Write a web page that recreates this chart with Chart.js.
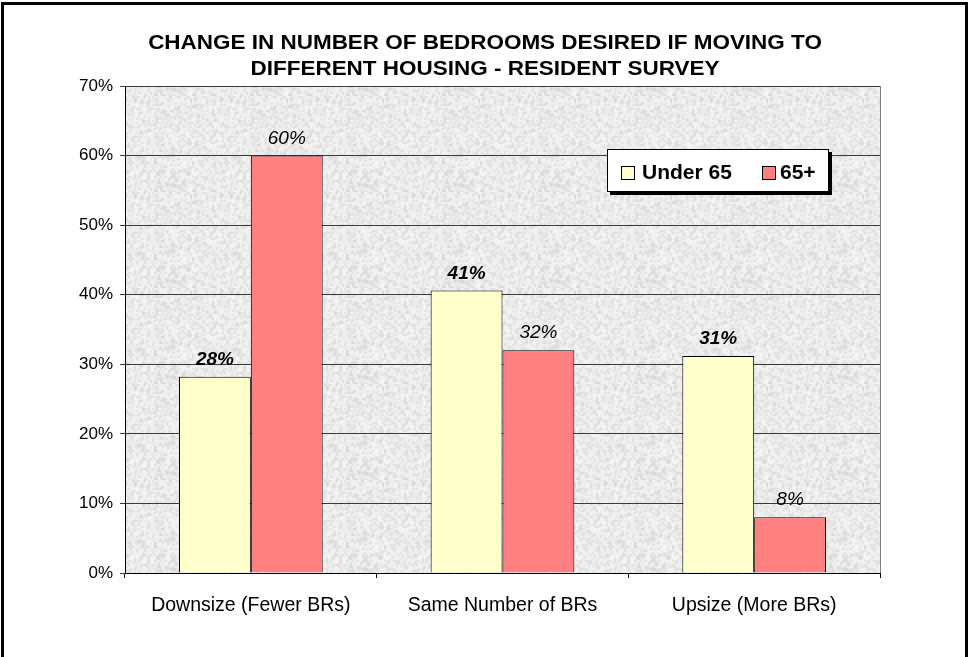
<!DOCTYPE html>
<html>
<head>
<meta charset="utf-8">
<script src="https://cdn.jsdelivr.net/npm/chart.js@4/dist/chart.umd.min.js"></script>
<style>
  body { margin: 0; background: #fff; }
  #wrap { position: absolute; left: 0; top: 0; width: 969px; height: 657px; }
  #frame { position: absolute; left: 1px; top: 2px; width: 967px; height: 720px;
           box-sizing: border-box; border: 3px solid #000; pointer-events: none; }
</style>
</head>
<body>
<div id="wrap"><canvas id="chart" width="969" height="657"></canvas></div>
<div id="frame"></div>
<script>
var categories = ['Downsize (Fewer BRs)', 'Same Number of BRs', 'Upsize (More BRs)'];
var under65 = [28.2, 40.6, 31.2];
var over65 = [60, 32, 8];
var seriesNames = ['Under 65', '65+'];
var titleLines = ['CHANGE IN NUMBER OF BEDROOMS DESIRED IF MOVING TO', 'DIFFERENT HOUSING - RESIDENT SURVEY'];

var FONT = 'Arial, "Liberation Sans", sans-serif';

// light granite texture for the plot area (deterministic speckle, softened)
function makeTexture(ctx) {
  var n = 48;
  var s = document.createElement('canvas');
  s.width = n; s.height = n;
  var g = s.getContext('2d');
  var img = g.createImageData(n, n);
  for (var i = 0; i < n * n; i++) {
    var h = Math.sin(i * 12.9898 + 78.233) * 43758.5453;
    h = h - Math.floor(h);
    var v = 246 - Math.round(h * h * 34);
    img.data[i * 4] = v;
    img.data[i * 4 + 1] = v;
    img.data[i * 4 + 2] = v;
    img.data[i * 4 + 3] = 255;
  }
  g.putImageData(img, 0, 0);
  var c = document.createElement('canvas');
  c.width = n * 2; c.height = n * 2;
  var g2 = c.getContext('2d');
  g2.imageSmoothingEnabled = true;
  g2.drawImage(s, 0, 0, n * 2, n * 2);
  return ctx.createPattern(c, 'repeat');
}

var plotBg = {
  id: 'plotBg',
  beforeDraw: function(chart) {
    var a = chart.chartArea, ctx = chart.ctx;
    ctx.save();
    ctx.fillStyle = makeTexture(ctx);
    ctx.fillRect(a.left, a.top, a.right - a.left, a.bottom - a.top);
    ctx.restore();
  },
  afterDraw: function(chart) {
    var a = chart.chartArea, ctx = chart.ctx;
    ctx.save();
    ctx.strokeStyle = '#808080';
    ctx.lineWidth = 1;
    ctx.beginPath();
    ctx.moveTo(a.right + 0.5, a.top);
    ctx.lineTo(a.right + 0.5, a.bottom);
    ctx.stroke();
    // title, slightly widened like the original
    ctx.fillStyle = '#000';
    ctx.font = 'bold 21px ' + FONT;
    ctx.textAlign = 'center';
    ctx.textBaseline = 'alphabetic';
    ctx.translate(485, 0);
    ctx.scale(1.07, 1);
    ctx.fillText(titleLines[0], 0, 49);
    ctx.fillText(titleLines[1], 0, 75);
    ctx.restore();
  }
};

var barLabels = {
  id: 'barLabels',
  afterDatasetsDraw: function(chart) {
    var ctx = chart.ctx;
    ctx.save();
    ctx.fillStyle = '#000';
    ctx.textAlign = 'center';
    ctx.textBaseline = 'alphabetic';
    chart.data.datasets.forEach(function(ds, di) {
      ctx.font = (di === 0 ? 'italic bold ' : 'italic ') + '19px ' + FONT;
      chart.getDatasetMeta(di).data.forEach(function(bar, i) {
        ctx.fillText(Math.round(ds.data[i]) + '%', bar.x, bar.y - 12);
      });
    });
    ctx.restore();
  }
};

var boxLegend = {
  id: 'boxLegend',
  afterDraw: function(chart) {
    var ctx = chart.ctx;
    var x = 607, y = 149, w = 222, h = 43;
    ctx.save();
    ctx.fillStyle = '#000';
    ctx.fillRect(x + 3, y + 3, w, h);
    ctx.fillStyle = '#fff';
    ctx.fillRect(x, y, w, h);
    ctx.strokeStyle = '#000';
    ctx.lineWidth = 1;
    ctx.strokeRect(x + 0.5, y + 0.5, w - 1, h - 1);
    var items = [{ sx: 621, tx: 642 }, { sx: 762, tx: 780 }];
    ctx.font = 'bold 21px ' + FONT;
    ctx.textBaseline = 'middle';
    ctx.textAlign = 'left';
    chart.data.datasets.forEach(function(ds, di) {
      var it = items[di];
      ctx.fillStyle = ds.backgroundColor;
      ctx.fillRect(it.sx + 0.5, 166.5, 13, 13);
      ctx.strokeStyle = '#000';
      ctx.strokeRect(it.sx + 0.5, 166.5, 13, 13);
      ctx.fillStyle = '#000';
      ctx.fillText(ds.label, it.tx, 173);
    });
    ctx.restore();
  }
};

new Chart(document.getElementById('chart'), {
  type: 'bar',
  data: {
    labels: categories,
    datasets: [
      { label: seriesNames[0], data: under65, backgroundColor: '#FFFFCC', borderColor: '#000', borderWidth: 1 },
      { label: seriesNames[1], data: over65, backgroundColor: '#FF8080', borderColor: '#000', borderWidth: 1 }
    ]
  },
  options: {
    responsive: false,
    animation: false,
    events: [],
    layout: { padding: { left: 0, right: 89, top: 86, bottom: 0 } },
    plugins: { legend: { display: false }, title: { display: false }, tooltip: { enabled: false } },
    datasets: { bar: { categoryPercentage: 0.571, barPercentage: 1.0 } },
    scales: {
      x: {
        grid: { offset: true, drawOnChartArea: false, drawTicks: true, tickLength: 5, color: '#000' },
        border: { color: '#000', width: 1 },
        ticks: { color: '#000', font: { family: FONT, size: 19.5 }, padding: 16, maxRotation: 0 },
        afterFit: function(s) { s.height = 84; }
      },
      y: {
        min: 0, max: 70,
        grid: { color: '#3a3a3a', tickLength: 5 },
        border: { color: '#000', width: 1 },
        ticks: { stepSize: 10, color: '#000', font: { family: FONT, size: 17 }, padding: 7,
                 callback: function(v) { return v + '%'; } },
        afterFit: function(s) { s.width = 125; }
      }
    }
  },
  plugins: [plotBg, barLabels, boxLegend]
});
</script>
</body>
</html>
